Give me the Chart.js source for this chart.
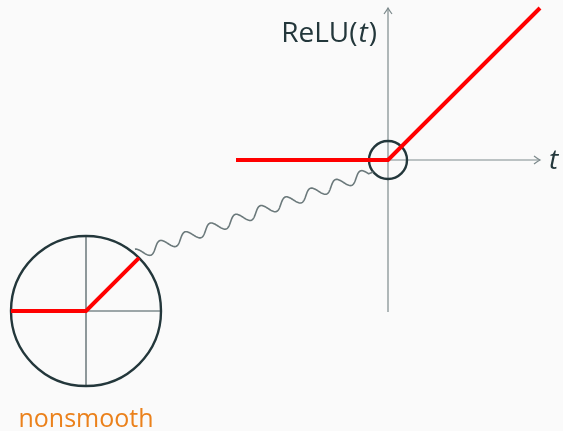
<!DOCTYPE html>
<html><head><meta charset="utf-8">
<script src="https://cdn.jsdelivr.net/npm/chart.js@4/dist/chart.umd.min.js"></script>
<style>html,body{margin:0;padding:0;background:#fafafa;}canvas{display:block;}</style>
</head><body>
<canvas id="c" width="563" height="431"></canvas>
<script>
// Main plot: ReLU(t)
const reluT = [-1, 0, 1];
const reluY = [0, 0, 1];
const axisT = [-1, 1];
const axisY = [-1, 1];
// Zoomed inset around t = 0 (radius 0.125)
const zoomR = 0.125;
const insetT = [-0.125, 0, 0.0884];
const insetY = [0, 0, 0.0884];
const labels = {yLabel: 'ReLU(', yVar: 't', yClose: ')', xVar: 't', note: 'nonsmooth'};

const DARK = '#23373b', GRAY = '#7d8a8c', RED = '#ff0000', ORANGE = '#eb811b';

const pts = (xs, ys) => xs.map((x, i) => ({x, y: ys[i]}));

const deco = {
  id: 'deco',
  afterDatasetsDraw(chart) {
    const {ctx, scales} = chart;
    const X = scales.x, Y = scales.y, XI = scales.xi, YI = scales.yi;
    ctx.save();
    // arrow heads
    function arrow(px, py, ang) {
      ctx.save();
      ctx.translate(px, py); ctx.rotate(ang);
      ctx.strokeStyle = GRAY; ctx.lineWidth = 1.2;
      ctx.beginPath();
      ctx.moveTo(-6, -4); ctx.quadraticCurveTo(-2, -1, 0, 0); ctx.quadraticCurveTo(-2, 1, -6, 4);
      ctx.stroke();
      ctx.restore();
    }
    arrow(X.getPixelForValue(axisT[1]) , Y.getPixelForValue(0), 0);
    arrow(X.getPixelForValue(0), Y.getPixelForValue(axisY[1]), -Math.PI / 2);

    // wavy connector
    const a = Math.PI * 1.22;
    const sx = X.getPixelForValue(0) + Math.cos(a) * 19;
    const sy = Y.getPixelForValue(0) - Math.sin(a) * 19;
    const b = Math.PI * 0.27;
    const ex = XI.getPixelForValue(0) + Math.cos(b) * 75;
    const ey = YI.getPixelForValue(0) - Math.sin(b) * 75;
    const dx = ex - sx, dy = ey - sy, L = Math.hypot(dx, dy);
    const ux = dx / L, uy = dy / L, nx = -uy, ny = ux;
    const waves = 9.25, amp = 5.4, lead = 5;
    ctx.strokeStyle = '#6b797b'; ctx.lineWidth = 1.6;
    ctx.lineJoin = 'round';
    ctx.beginPath();
    ctx.moveTo(sx, sy);
    for (let s = lead; s <= L - 1; s += 0.5) {
      const ph = (s - lead) / (L - lead - 1) * waves * 2 * Math.PI;
      const o = amp * Math.sin(ph);
      ctx.lineTo(sx + ux * s + nx * o, sy + uy * s + ny * o);
    }
    ctx.stroke();

    // texts
    ctx.fillStyle = DARK;
    ctx.textBaseline = 'alphabetic';
    const F = '28px "Open Sans"', FI = 'italic 28px "Open Sans"';
    ctx.font = F;
    const w1 = ctx.measureText(labels.yLabel).width;
    ctx.font = FI;
    const w2 = ctx.measureText(labels.yVar).width;
    ctx.font = F;
    const w3 = ctx.measureText(labels.yClose).width;
    let tx = 377 - (w1 + w2 + w3 + 2), ty = 42;
    ctx.textAlign = 'left';
    ctx.fillText(labels.yLabel, tx, ty); tx += w1 + 1;
    ctx.font = FI;
    ctx.fillText(labels.yVar, tx, ty); tx += w2 + 1;
    ctx.font = F;
    ctx.fillText(labels.yClose, tx, ty);
    ctx.font = FI;
    ctx.fillText(labels.xVar, 549, 169);
    ctx.fillStyle = ORANGE;
    ctx.font = '25px "Open Sans"';
    ctx.textAlign = 'center';
    ctx.fillText(labels.note, XI.getPixelForValue(0), 427);
    ctx.restore();
  }
};

new Chart(document.getElementById('c'), {
  type: 'scatter',
  data: {
    datasets: [
      {data: pts(reluT, reluY), showLine: true, borderColor: RED, borderWidth: 4, pointRadius: 0, xAxisID: 'x', yAxisID: 'y'},
      {data: pts(insetT, insetY), showLine: true, borderColor: RED, borderWidth: 4, pointRadius: 0, xAxisID: 'xi', yAxisID: 'yi'},
      {data: [{x: 0, y: 0}], pointRadius: 19, pointStyle: 'circle', borderColor: DARK, borderWidth: 2.4, backgroundColor: 'rgba(0,0,0,0)', xAxisID: 'x', yAxisID: 'y'},
      {data: [{x: 0, y: 0}], pointRadius: 75, pointStyle: 'circle', borderColor: DARK, borderWidth: 2.4, backgroundColor: 'rgba(0,0,0,0)', xAxisID: 'xi', yAxisID: 'yi'},
      {data: pts(axisT, [0, 0]), showLine: true, borderColor: GRAY, borderWidth: 1.2, pointRadius: 0, xAxisID: 'x', yAxisID: 'y'},
      {data: pts([0, 0], axisY), showLine: true, borderColor: GRAY, borderWidth: 1.2, pointRadius: 0, xAxisID: 'x', yAxisID: 'y'},
      {data: pts([0, zoomR], [0, 0]), showLine: true, borderColor: GRAY, borderWidth: 1.5, pointRadius: 0, xAxisID: 'xi', yAxisID: 'yi'},
      {data: pts([0, 0], [-zoomR, zoomR]), showLine: true, borderColor: DARK, borderWidth: 1, pointRadius: 0, xAxisID: 'xi', yAxisID: 'yi'}
    ]
  },
  options: {
    responsive: false, animation: false,
    layout: {padding: 0, autoPadding: false},
    plugins: {legend: {display: false}, tooltip: {enabled: false}},
    elements: {point: {hitRadius: 0, hoverRadius: 0}},
    scales: {
      x: {type: 'linear', display: false, min: -388 / 152, max: 175 / 152},
      y: {type: 'linear', display: false, min: -271 / 152, max: 160 / 152},
      xi: {type: 'linear', display: false, min: -86 / 600, max: 477 / 600},
      yi: {type: 'linear', display: false, min: -120 / 600, max: 311 / 600}
    }
  },
  plugins: [deco]
});
</script>
</body></html>
